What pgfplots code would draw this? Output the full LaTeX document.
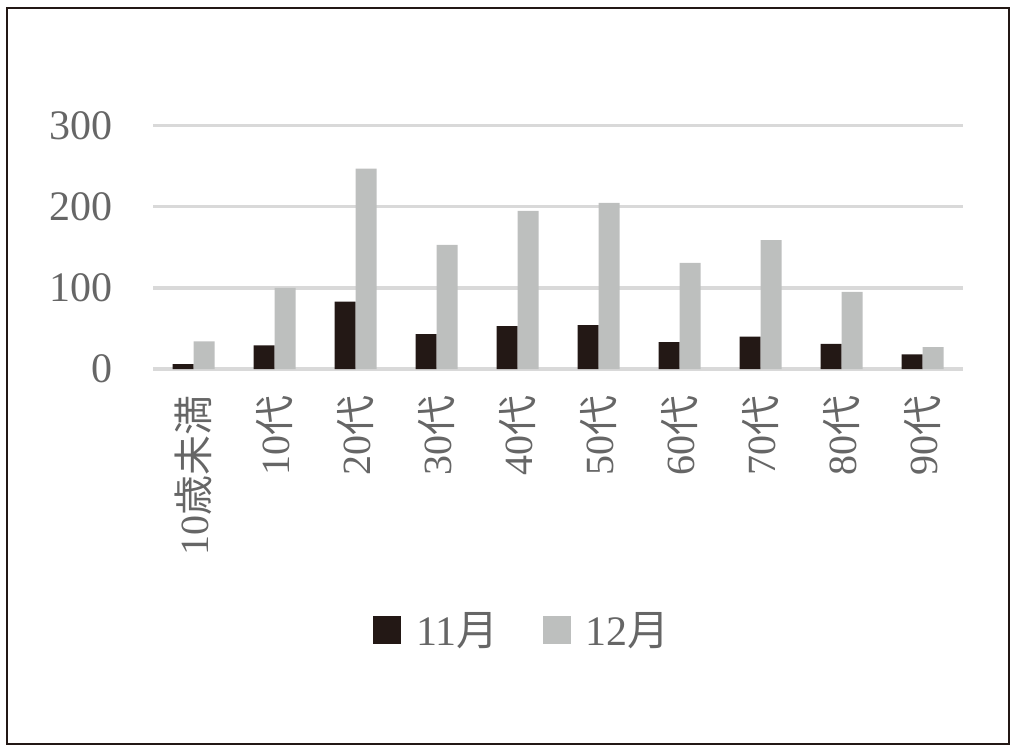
\documentclass[border=0pt]{standalone}
\usepackage{fontspec}
\setmainfont{Liberation Serif}
\newfontfamily\jp{Noto Sans CJK JP}
\usepackage{pgfplots}
\pgfplotsset{compat=1.18}
\definecolor{barblack}{HTML}{231815}
\definecolor{bargray}{HTML}{BDBFBE}
\definecolor{gridgray}{HTML}{D9D9D9}
\definecolor{txt}{HTML}{666666}
\begin{document}
\begin{tikzpicture}[x=1pt,y=1pt]
\path (0,0) rectangle (509.5,376);
\draw[line width=0.8pt, barblack] (3.5,4) rectangle (504.5,372);
\begin{axis}[
  at={(76.5pt,191.5pt)}, anchor=south west,
  scale only axis, width=405pt, height=121.65pt,
  xmin=-0.5, xmax=9.5, ymin=0, ymax=300,
  ybar=0pt, bar width=10.5pt,
  axis line style={draw=none},
  major tick length=0pt,
  ytick={0,100,200,300},
  ymajorgrids, grid style={gridgray, line width=1.6pt},
  xtick=data,
  xticklabels={10{\jp 歳未満},10{\jp 代},20{\jp 代},30{\jp 代},40{\jp 代},50{\jp 代},60{\jp 代},70{\jp 代},80{\jp 代},90{\jp 代}},
  /pgf/number format/assume math mode=true,
  yticklabel style={font=\fontsize{21}{21}\selectfont, text=txt, inner sep=0pt},
  yticklabel shift=20pt,
  xticklabel style={font=\fontsize{20}{20}\selectfont, text=txt, rotate=90, anchor=east, inner sep=0pt},
  xticklabel shift=13pt,
  legend image code/.code={\fill[#1] (0pt,-7pt) rectangle (14pt,7pt); \path[draw=none,fill=none] (0pt,0pt) rectangle (21.5pt,0.1pt);},
  legend style={at={(0.455,-1.073)}, anchor=center, draw=none, fill=none,
    legend columns=2, font=\rmfamily\fontsize{21}{21}\selectfont, text=txt,
    /tikz/every even column/.append style={column sep=22pt},
    nodes={inner sep=0pt, anchor=west}},
  legend cell align=left,
]
\addplot[fill=barblack, draw=none] coordinates {(0,6) (1,29) (2,83) (3,43) (4,53) (5,54) (6,33) (7,40) (8,31) (9,18)};
\addlegendentry{\rmfamily 11{\jp 月}}
\addplot[fill=bargray, draw=none] coordinates {(0,34) (1,100) (2,247) (3,153) (4,195) (5,205) (6,131) (7,159) (8,95) (9,27)};
\addlegendentry{\rmfamily 12{\jp 月}}
\end{axis}
\end{tikzpicture}
\end{document}
